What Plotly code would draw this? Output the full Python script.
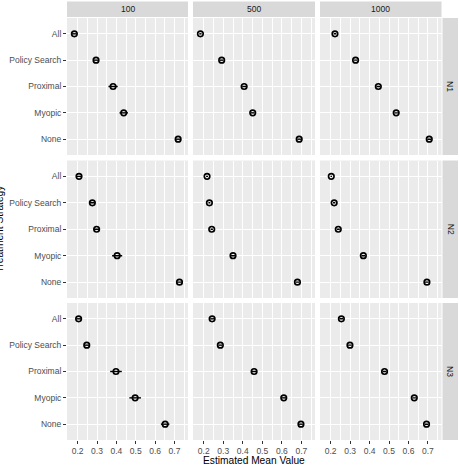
import plotly.graph_objects as go

W, H = 459, 465

strategies = ["All", "Policy Search", "Proximal", "Myopic", "None"]
sample_sizes = ["100", "500", "1000"]
networks = ["N1", "N2", "N3"]

# estimated mean values (order follows `strategies`)
mean_N1_100 = [0.183, 0.295, 0.383, 0.438, 0.719]
mean_N1_500 = [0.183, 0.292, 0.407, 0.451, 0.689]
mean_N1_1000 = [0.222, 0.328, 0.445, 0.537, 0.707]
mean_N2_100 = [0.207, 0.276, 0.298, 0.404, 0.726]
mean_N2_500 = [0.217, 0.229, 0.241, 0.350, 0.680]
mean_N2_1000 = [0.203, 0.218, 0.239, 0.368, 0.695]
mean_N3_100 = [0.205, 0.247, 0.398, 0.497, 0.652]
mean_N3_500 = [0.243, 0.285, 0.458, 0.610, 0.698]
mean_N3_1000 = [0.255, 0.299, 0.477, 0.630, 0.693]

# half-widths of the error bars
err_N1_100 = [0.012, 0.013, 0.024, 0.022, 0.013]
err_N1_500 = [0.006, 0.010, 0.010, 0.010, 0.010]
err_N1_1000 = [0.007, 0.010, 0.010, 0.010, 0.010]
err_N2_100 = [0.012, 0.012, 0.014, 0.026, 0.013]
err_N2_500 = [0.005, 0.005, 0.006, 0.010, 0.010]
err_N2_1000 = [0.004, 0.006, 0.008, 0.010, 0.010]
err_N3_100 = [0.012, 0.013, 0.030, 0.030, 0.022]
err_N3_500 = [0.010, 0.010, 0.012, 0.012, 0.010]
err_N3_1000 = [0.010, 0.010, 0.010, 0.010, 0.010]

x_ticks = [0.2, 0.3, 0.4, 0.5, 0.6, 0.7]
x_minor = [0.15, 0.25, 0.35, 0.45, 0.55, 0.65, 0.75]
x_range = [0.145, 0.770]

means = [[mean_N1_100, mean_N1_500, mean_N1_1000],
         [mean_N2_100, mean_N2_500, mean_N2_1000],
         [mean_N3_100, mean_N3_500, mean_N3_1000]]
errs = [[err_N1_100, err_N1_500, err_N1_1000],
        [err_N2_100, err_N2_500, err_N2_1000],
        [err_N3_100, err_N3_500, err_N3_1000]]

# layout in pixels
col_px = [(67, 188), (193, 315), (320, 441.5)]
row_px = [(18, 155), (160.5, 298), (303, 440)]
FONT = "Liberation Sans, Arial, sans-serif"

def px_x(p):
    return p / W

def px_y(p):
    return 1 - p / H

fig = go.Figure()
layout = dict(
    width=W, height=H, margin=dict(l=0, r=0, t=0, b=0),
    paper_bgcolor="white", plot_bgcolor="#EBEBEB",
    showlegend=False, font=dict(family=FONT, size=8.5, color="#4D4D4D"),
)
shapes = []
annotations = []

cat_order = list(reversed(strategies))
for r in range(3):
    for c in range(3):
        idx = r * 3 + c + 1
        sx = "" if idx == 1 else str(idx)
        fig.add_trace(go.Scatter(
            x=means[r][c], y=strategies, mode="markers",
            xaxis="x" + sx, yaxis="y" + sx,
            marker=dict(symbol="circle-open", size=5.5, color="black",
                        line=dict(width=1.7, color="black")),
            error_x=dict(type="data", array=errs[r][c], color="black",
                         thickness=1.4, width=0),
            hoverinfo="x+y",
        ))
        bottom = r == 2
        left = c == 0
        layout["xaxis" + sx] = dict(
            domain=[px_x(col_px[c][0]), px_x(col_px[c][1])],
            anchor="y" + sx, range=x_range, tickvals=x_ticks,
            ticktext=[f"{v:.1f}" for v in x_ticks],
            showticklabels=bottom, ticks="outside" if bottom else "",
            ticklen=3, tickwidth=1, tickcolor="#333333",
            tickfont=dict(family=FONT, size=8.5, color="#4D4D4D"),
            showgrid=True, gridcolor="white", gridwidth=1.07,
            minor=dict(tickvals=x_minor, showgrid=True, gridcolor="white",
                       gridwidth=0.5, ticks=""),
            zeroline=False, showline=False, automargin=False, fixedrange=True,
        )
        layout["yaxis" + sx] = dict(
            domain=[px_y(row_px[r][1]), px_y(row_px[r][0])],
            anchor="x" + sx, type="category", categoryorder="array",
            categoryarray=cat_order, range=[-0.6, 4.6],
            showticklabels=left, ticks="outside" if left else "",
            ticklen=3, tickwidth=1, tickcolor="#333333",
            tickfont=dict(family=FONT, size=8.5, color="#4D4D4D"),
            showgrid=True, gridcolor="white", gridwidth=1.07,
            zeroline=False, showline=False, automargin=False, fixedrange=True,
        )

# top strips
for c, lab in enumerate(sample_sizes):
    x0, x1 = col_px[c]
    shapes.append(dict(type="rect", xref="paper", yref="paper",
                       x0=px_x(x0), x1=px_x(x1), y0=px_y(17), y1=px_y(1.5),
                       fillcolor="#D9D9D9", line=dict(width=0), layer="below"))
    annotations.append(dict(xref="paper", yref="paper", x=px_x((x0 + x1) / 2),
                            y=px_y(9.5), text=lab, showarrow=False,
                            xanchor="center", yanchor="middle",
                            font=dict(family=FONT, size=8.5, color="#1A1A1A")))
# right strips
for r, lab in enumerate(networks):
    y0, y1 = row_px[r]
    shapes.append(dict(type="rect", xref="paper", yref="paper",
                       x0=px_x(442.5), x1=px_x(458), y0=px_y(y1), y1=px_y(y0),
                       fillcolor="#D9D9D9", line=dict(width=0), layer="below"))
    annotations.append(dict(xref="paper", yref="paper", x=px_x(450.5),
                            y=px_y((y0 + y1) / 2), text=lab, showarrow=False,
                            textangle=90, xanchor="center", yanchor="middle",
                            font=dict(family=FONT, size=8.5, color="#1A1A1A")))

# axis titles
annotations.append(dict(xref="paper", yref="paper", x=px_x((67 + 441.5) / 2),
                        y=px_y(460), text="Estimated Mean Value", showarrow=False,
                        xanchor="center", yanchor="middle",
                        font=dict(family=FONT, size=10.2, color="black")))
annotations.append(dict(xref="paper", yref="paper", x=px_x(-0.5),
                        y=px_y(229), text="Treatment Strategy", showarrow=False,
                        textangle=-90, xanchor="center", yanchor="middle",
                        font=dict(family=FONT, size=10.2, color="black")))

layout["shapes"] = shapes
layout["annotations"] = annotations
fig.update_layout(**layout)
fig.write_html("out.html")
